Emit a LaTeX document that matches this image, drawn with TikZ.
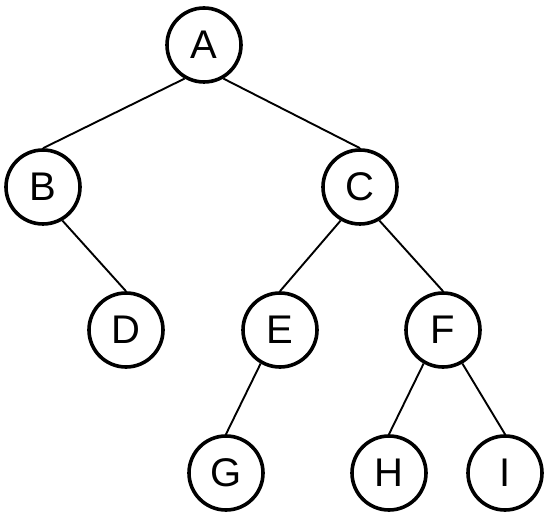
\documentclass[tikz,border=0pt]{standalone}
\usepackage{fontspec}
\setmainfont{Liberation Sans}
\usepackage{tikz}
\usetikzlibrary{positioning}

\begin{document}
\begin{tikzpicture}[
    x=1pt, y=1pt,
    vertex/.style={circle, draw=black, line width=3.6pt, minimum size=74pt,
      inner sep=0pt, font=\fontsize{40}{48}\selectfont},
    edge/.style={-, line width=1.9pt, black},
  ]

  \useasboundingbox (0,0) rectangle (548,519);

  % nodes
  \node (A) [vertex] at (204,474) {A};
  \node (B) [vertex] at (43,332)  {B};
  \node (C) [vertex] at (360,332) {C};
  \node (D) [vertex] at (126,189) {D};
  \node (E) [vertex] at (280,189) {E};
  \node (F) [vertex] at (443,189) {F};
  \node (G) [vertex] at (226,46)  {G};
  \node (H) [vertex] at (389,46)  {H};
  \node (I) [vertex] at (505,46)  {I};

  % edges
  \draw[edge] (A.240) -- (B.north);
  \draw[edge] (A.300) -- (C.north);
  \draw[edge] (B.300) -- (D.north);
  \draw[edge] (C.240) -- (E.north);
  \draw[edge] (C.300) -- (F.north);
  \draw[edge] (E.240) -- (G.north);
  \draw[edge] (F.240) -- (H.north);
  \draw[edge] (F.300) -- (I.north);

\end{tikzpicture}
\end{document}
